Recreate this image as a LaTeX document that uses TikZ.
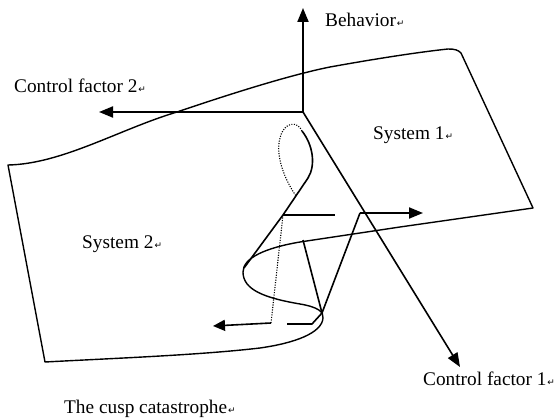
\documentclass[tikz,border=0pt]{standalone}
\usepackage{fontspec}
\setmainfont{Liberation Serif}
\newfontfamily\djv{DejaVu Sans}
\usetikzlibrary{arrows.meta}
\newcommand\retmark{{\djv\fontsize{9}{9}\selectfont\kern1pt ↵}}
\begin{document}
\begin{tikzpicture}[x=1pt,y=-1pt,
  lbl/.style={anchor=base west, inner sep=0pt, font=\fontsize{19.3}{21}\selectfont},
  axisarrow/.style={line width=2pt, -{Triangle[length=14pt,width=11pt]}},
  thinarrow/.style={line width=1.6pt, -{Triangle[length=12pt,width=11pt]}},
  sheetline/.style={line width=1.4pt, line join=round},
  foldline/.style={line width=1.6pt, line join=round},
  dotline/.style={line width=1.1pt, dash pattern=on 1.1pt off 1.4pt}]
\useasboundingbox (0,0) rectangle (556,419);

% axes
\coordinate (O) at (303,112);
\coordinate (bT) at (303,8);
\coordinate (c2T) at (99,112);
\coordinate (c1T) at (460,367);

% surface outline
\draw[sheetline] (8,165) .. controls (62,164) and (120,129) .. (177,112)
  .. controls (230,94) and (290,75) .. (330,67)
  .. controls (380,58) and (420,52) .. (448,49)
  .. controls (455,49) and (458,50) .. (461,53)
  -- (533,208) -- (400,227) -- (300,242)
  .. controls (265,248) and (243,258) .. (243,272)
  .. controls (243,290) and (265,298) .. (300,304)
  .. controls (318,307) and (324,312) .. (323,318)
  .. controls (322,333) and (295,343) .. (260,348)
  .. controls (200,355) and (120,358) .. (45,362) -- cycle;

\draw[axisarrow] (O) -- (bT);
\draw[axisarrow] (O) -- (c2T);
\draw[line width=1.6pt, -{Triangle[length=14pt,width=11pt]}] (O) -- (c1T);

% fold lines
\coordinate (lt) at (302,131);
\coordinate (lb) at (308,178);
\coordinate (J) at (283,215);
\coordinate (fL) at (244,268);
\coordinate (hE) at (335,215);
\coordinate (dB) at (271,323);
\coordinate (aL) at (213,326);
\coordinate (sA) at (287,324);
\coordinate (sB) at (312,324);
\coordinate (V) at (322,313);
\coordinate (vT) at (303,240);
\coordinate (vR) at (360,213);
\coordinate (aR) at (423,213);

\draw[foldline] (lt) .. controls (313,145) and (316,165) .. (lb) -- (J) -- (fL);
\draw[dotline] (lt) .. controls (298,121) and (284,121) .. (280,138)
  .. controls (275,156) and (285,180) .. (296,196);
\draw[dotline] (J) -- (dB);
\draw[foldline] (J) -- (hE);
\draw[thinarrow] (dB) -- (aL);
\draw[foldline] (sA) -- (sB) -- (V);
\draw[foldline] (vT) -- (V) -- (vR);
\draw[axisarrow] (vR) -- (aR);

% labels
\node[lbl] (beh) at (325,27) {Behavior\retmark};
\node[lbl] (cf2) at (14,93) {Control factor 2\retmark};
\node[lbl] (cf1) at (423,385) {Control factor 1\retmark};
\node[lbl] (s1) at (373,140) {System 1\retmark};
\node[lbl] (s2) at (82,249) {System 2\retmark};
\node[lbl] (cusp) at (64,413) {The cusp catastrophe\retmark};
\end{tikzpicture}
\end{document}
